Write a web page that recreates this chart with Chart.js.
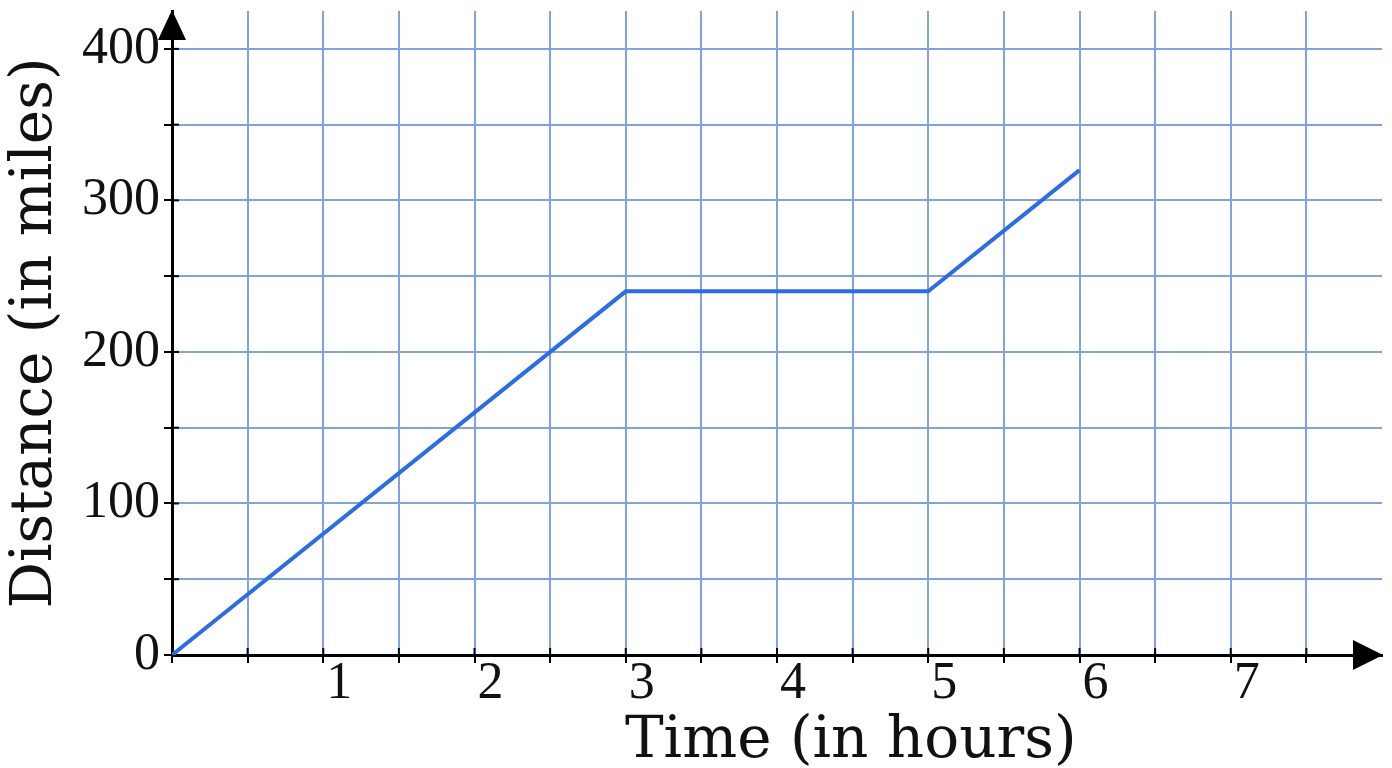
<!DOCTYPE html>
<html>
  <head>
    <title>Distance vs Time</title>
    <script src="https://cdn.jsdelivr.net/npm/chart.js@4.4.1/dist/chart.umd.min.js"></script>
    <style>
      body {
        margin: 0;
        background: #fff;
      }

      .container {
        width: 1392px;
        height: 768px;
      }
    </style>
  </head>
  <body>
    <div class="container">
      <canvas id="trip-chart"></canvas>
    </div>

    <script>
      const hours = [0, 3, 5, 6];
      const miles = [0, 240, 240, 320];
      const xLabels = ["1", "2", "3", "4", "5", "6", "7"];
      const yLabels = ["0", "100", "200", "300", "400"];

      const gridColor = "#82a2dc";
      const lineColor = "#2d6ddf";

      // arrows on the axis ends and tick marks crossing the axes
      const axisArrows = {
        id: "axisArrows",
        afterDraw(chart) {
          const ctx = chart.ctx;
          const area = chart.chartArea;
          const xs = chart.scales.x;
          const ys = chart.scales.y;
          ctx.save();
          ctx.strokeStyle = "#000";
          ctx.lineWidth = 2;
          xs.ticks.forEach((t) => {
            const px = xs.getPixelForValue(t.value);
            if (t.value === 0) return;
            ctx.beginPath();
            ctx.moveTo(px, area.bottom - 7);
            ctx.lineTo(px, area.bottom);
            ctx.stroke();
          });
          ys.ticks.forEach((t) => {
            const py = ys.getPixelForValue(t.value);
            if (t.value === 0) return;
            ctx.beginPath();
            ctx.moveTo(area.left, py);
            ctx.lineTo(area.left + 7, py);
            ctx.stroke();
          });
          ctx.fillStyle = "#000";
          ctx.beginPath();
          ctx.moveTo(area.right + 1, area.bottom);
          ctx.lineTo(area.right - 29, area.bottom - 15);
          ctx.lineTo(area.right - 29, area.bottom + 15);
          ctx.closePath();
          ctx.fill();
          ctx.beginPath();
          ctx.moveTo(area.left, area.top - 1);
          ctx.lineTo(area.left - 14, area.top + 29);
          ctx.lineTo(area.left + 14, area.top + 29);
          ctx.closePath();
          ctx.fill();
          ctx.restore();
        },
      };

      new Chart("trip-chart", {
        type: "line",
        data: {
          datasets: [
            {
              data: hours.map((h, i) => ({ x: h, y: miles[i] })),
              borderColor: lineColor,
              borderWidth: 4,
              pointRadius: 0,
              tension: 0,
              fill: false,
            },
          ],
        },
        options: {
          responsive: true,
          maintainAspectRatio: false,
          animation: false,
          layout: { padding: { top: 11, right: 10, left: 0, bottom: 0 } },
          plugins: {
            legend: { display: false },
            tooltip: { enabled: false },
          },
          scales: {
            x: {
              type: "linear",
              min: 0,
              max: 8,
              afterBuildTicks: (s) => {
                s.ticks = s.ticks.filter((t) => t.value < 8);
              },
              afterFit: (s) => {
                s.height = 113;
                s.paddingLeft = 0;
                s.paddingRight = 0;
              },
              grid: {
                color: gridColor,
                lineWidth: 2,
                tickColor: "#000",
                tickLength: 8,
                tickWidth: 2,
              },
              border: { color: "#000", width: 3 },
              ticks: {
                stepSize: 0.5,
                autoSkip: false,
                maxRotation: 0,
                labelOffset: 16,
                padding: -10,
                color: "#111",
                font: { family: "Liberation Serif", size: 52 },
                callback: (v) => (Number.isInteger(v) && xLabels[v - 1] ? xLabels[v - 1] : ""),
              },
              title: {
                display: true,
                // leading spaces push the title right, as in the original
                text: "        Time (in hours)",
                color: "#111",
                font: { family: "DejaVu Serif", size: 58, lineHeight: 1 },
                padding: { top: 0, bottom: -3 },
              },
            },
            y: {
              min: 0,
              max: 425,
              afterBuildTicks: (s) => {
                s.ticks = s.ticks.filter((t) => t.value <= 400);
              },
              afterFit: (s) => {
                s.width = 172;
                s.paddingTop = 0;
                s.paddingBottom = 0;
              },
              grid: {
                color: gridColor,
                lineWidth: 2,
                tickColor: "#000",
                tickLength: 8,
                tickWidth: 2,
              },
              border: { color: "#000", width: 3 },
              ticks: {
                stepSize: 50,
                includeBounds: false,
                autoSkip: false,
                padding: 4,
                color: "#111",
                font: { family: "Liberation Serif", size: 52 },
                callback: (v) => (v % 100 === 0 ? yLabels[v / 100] : ""),
              },
              title: {
                display: true,
                text: "Distance (in miles)",
                color: "#111",
                font: { family: "DejaVu Serif", size: 58, lineHeight: 1 },
                padding: { top: 7, bottom: 0 },
              },
            },
          },
        },
        plugins: [axisArrows],
      });
    </script>
  </body>
</html>
